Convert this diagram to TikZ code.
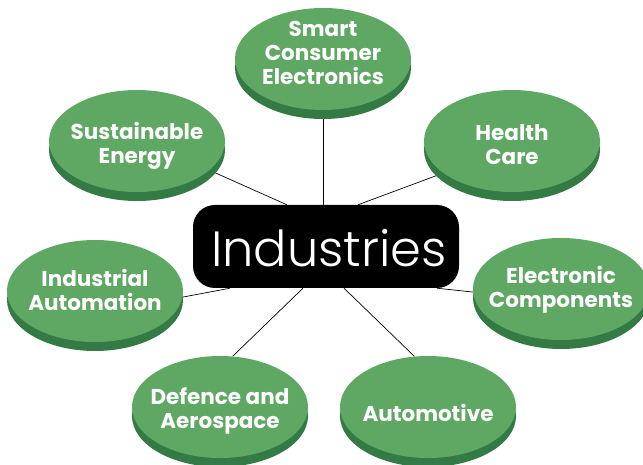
\documentclass[tikz,border=0pt]{standalone}
\usepackage{fontspec}
\setmainfont{Poppins}
\newfontfamily\labelfont{Poppins Bold}
\newfontfamily\titlefont{Poppins Light}
\usetikzlibrary{shapes.geometric,shadows,backgrounds}
\definecolor{facegreen}{RGB}{94,168,99}
\definecolor{shadegreen}{RGB}{52,122,68}
\tikzset{
  blob/.style={ellipse, fill=facegreen, minimum width=176pt, minimum height=102pt,
    inner sep=0pt,
    drop shadow={shadow xshift=0pt, shadow yshift=-9pt, fill=shadegreen, opacity=1}},
  txt/.style={text=white, align=center, inner sep=0pt,
    font=\labelfont\fontsize{21.5}{24}\selectfont},
  hub/.style={rectangle, rounded corners=22pt, fill=black,
    minimum width=266pt, minimum height=83pt, inner sep=0pt},
  hubtxt/.style={text=white, inner sep=0pt,
    font=\titlefont\fontsize{49.5}{52}\selectfont},
  link/.style={draw=black, line width=0.7pt}
}
\begin{document}
\begin{tikzpicture}[x=1pt,y=-1pt]
\useasboundingbox (0,0) rectangle (643,465);
\node[hub, label={[hubtxt, xshift=3pt, yshift=-2pt]center:Industries}] (ind) at (326,246.5) {};
\node[blob, label={[txt, yshift=6pt]center:Smart\\Consumer\\Electronics}] (sm) at (323,59) {};
\node[blob, label={[txt, yshift=-5pt]center:Sustainable\\Energy}] (sus) at (137,141) {};
\node[blob, label={[txt, yshift=-4pt]center:Health\\Care}] (hc) at (512,141) {};
\node[blob, label={[txt, yshift=1pt]center:Industrial\\Automation}] (ia) at (95,291) {};
\node[blob, label={[txt, yshift=-1pt]center:Electronic\\Components}] (ec) at (561,289) {};
\node[blob, label={[txt, yshift=-4pt]center:Defence and\\Aerospace}] (da) at (220,407) {};
\node[blob, label={[txt, yshift=-6pt]center:Automotive}] (au) at (428,407) {};
\begin{scope}[on background layer]
  \fill[white] (0,0) rectangle (643,465);
  \draw[link] (sm.south) -- (sm.south |- ind.north);
  \draw[link] (sus.-22) -- ([xshift=-39pt]ind.north);
  \draw[link] (hc.205) -- ([xshift=32pt]ind.north);
  \draw[link] (ia.-4) -- ([xshift=-96pt]ind.south);
  \draw[link] (ec.182) -- ([xshift=111pt]ind.south);
  \draw[link] (da.76) -- ([xshift=-23pt]ind.south);
  \draw[link] (au.105) -- ([xshift=18pt]ind.south);
\end{scope}
\end{tikzpicture}
\end{document}
